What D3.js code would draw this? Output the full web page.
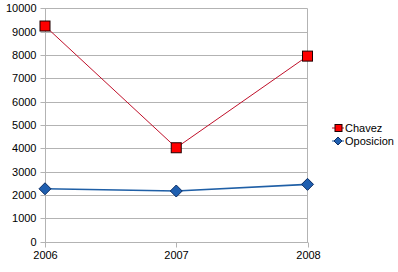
<!DOCTYPE html>
<html><head><meta charset="utf-8">
<script src="https://cdn.jsdelivr.net/npm/d3@7"></script>
<style>body{margin:0;background:#fff}svg{display:block}text{font-family:"Liberation Sans",Arial,sans-serif}</style>
</head><body>
<script>
const years = ["2006","2007","2008"];
const chavez = [9240, 4020, 7950];
const oposicion = [2260, 2165, 2450];
const yTicks = [0,1000,2000,3000,4000,5000,6000,7000,8000,9000,10000];

const W=398,H=272;
const svg=d3.select("body").append("svg").attr("width",W).attr("height",H);
const x=d3.scalePoint().domain(years).range([45,307.5]);
const y=d3.scaleLinear().domain([0,10000]).range([241.5,8.3]);

// gridlines
svg.append("g").selectAll("line").data(yTicks.filter(d=>d>0)).join("line")
 .attr("x1",45).attr("x2",307.5).attr("y1",d=>Math.round(y(d))+0.5).attr("y2",d=>Math.round(y(d))+0.5)
 .attr("stroke","#b3b3b3").attr("stroke-width",1);
// right border
svg.append("line").attr("x1",307.5).attr("x2",307.5).attr("y1",Math.round(y(10000))+0.5).attr("y2",Math.round(y(0))+0.5).attr("stroke","#b3b3b3");

const ya=svg.append("g").attr("transform","translate(45.5,0.5)")
 .call(d3.axisLeft(y).tickValues(yTicks).tickSize(5).tickPadding(4).tickFormat(d3.format("d")));
ya.selectAll("text").attr("font-size",11).attr("fill","#000").attr("font-family","Liberation Sans, Arial, sans-serif");
ya.selectAll(".tick").attr("transform",d=>`translate(0,${Math.round(y(d))})`);
const xa=svg.append("g").attr("transform",`translate(0.5,${Math.round(y(0))+0.5})`)
 .call(d3.axisBottom(x).tickSize(5).tickPadding(4));
xa.selectAll(".tick").attr("transform",d=>`translate(${Math.round(x(d))},0)`);
xa.selectAll("text").attr("font-size",11).attr("fill","#000").attr("font-family","Liberation Sans, Arial, sans-serif");
[ya,xa].forEach(a=>{a.selectAll("line,path").attr("stroke","#b3b3b3");a.select(".domain").attr("d",null);});
svg.append("line").attr("x1",45.5).attr("x2",45.5).attr("y1",Math.round(y(10000))+0.5).attr("y2",Math.round(y(0))+0.5).attr("stroke","#b3b3b3");
svg.append("line").attr("x1",45).attr("x2",308).attr("y1",Math.round(y(0))+0.5).attr("y2",Math.round(y(0))+0.5).attr("stroke","#b3b3b3");

const line=d3.line().x((d,i)=>x(years[i])).y(d=>y(d));
svg.append("path").attr("d",line(chavez)).attr("fill","none").attr("stroke","#c0102a").attr("stroke-width",1);
svg.append("path").attr("d",line(oposicion)).attr("fill","none").attr("stroke","#1f5fa6").attr("stroke-width",1.6);

svg.append("g").selectAll("rect").data(chavez).join("rect")
 .attr("x",(d,i)=>x(years[i])-5).attr("y",d=>y(d)-5).attr("width",10).attr("height",10)
 .attr("fill","#ff0000").attr("stroke","#200000").attr("stroke-width",1);
const dia="M0,-6L6,0L0,6L-6,0Z";
svg.append("g").selectAll("path").data(oposicion).join("path")
 .attr("d",dia).attr("transform",(d,i)=>`translate(${x(years[i])},${y(d)})`)
 .attr("fill","#1f5fb0").attr("stroke","#0d2f66").attr("stroke-width",1);

// legend
const lg=svg.append("g");
const names=["Chavez","Oposicion"];
names.forEach((n,i)=>{
 const cy=128+i*13;
 lg.append("line").attr("x1",332).attr("x2",344).attr("y1",cy).attr("y2",cy).attr("stroke",i?"#1f5fa6":"#c0102a").attr("stroke-width",1);
 if(i===0) lg.append("rect").attr("x",335).attr("y",cy-3.5).attr("width",7).attr("height",7).attr("fill","#ff0000").attr("stroke","#200000");
 else lg.append("path").attr("d","M0,-4L4,0L0,4L-4,0Z").attr("transform",`translate(338,${cy})`).attr("fill","#1f5fb0").attr("stroke","#0d2f66");
 lg.append("text").attr("x",345).attr("y",cy+4).attr("font-size",11).text(n);
});
</script>
</body></html>
